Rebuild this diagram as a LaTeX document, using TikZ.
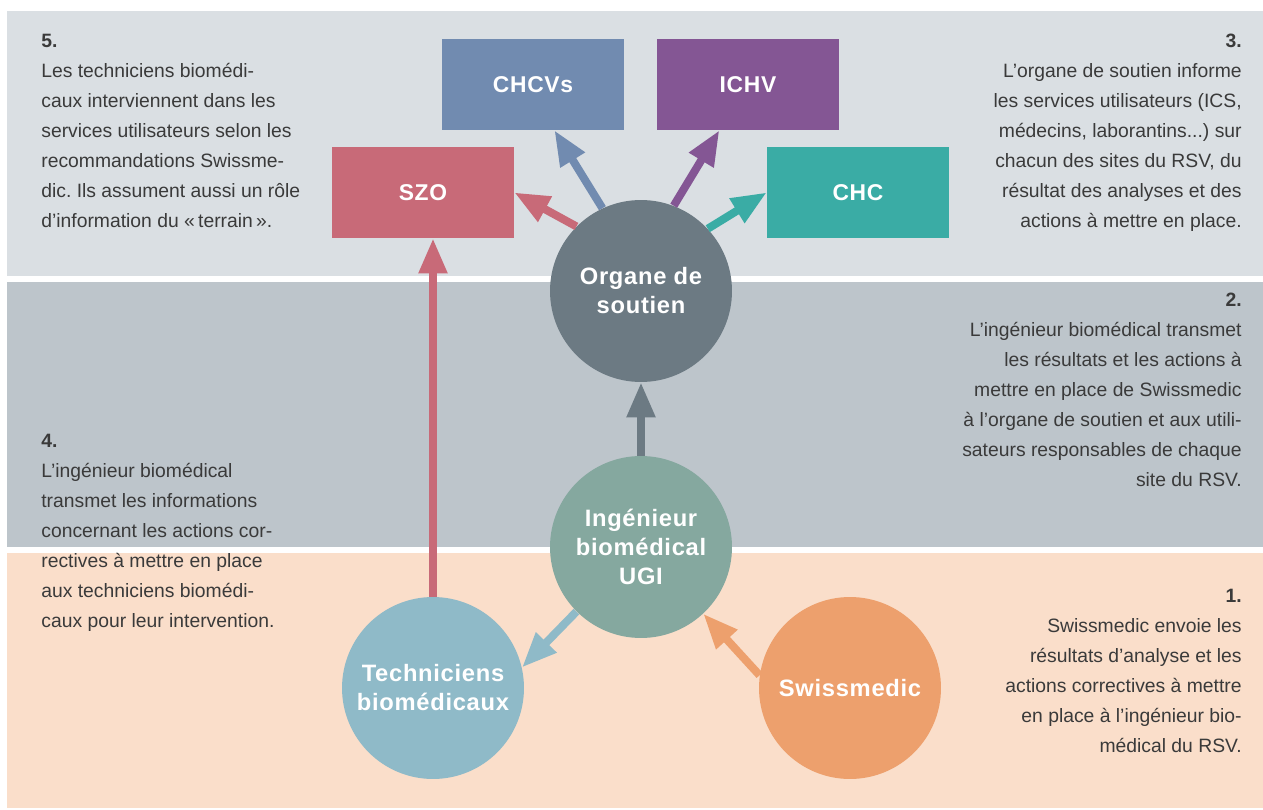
\documentclass[tikz,border=0pt]{standalone}
\usepackage{fontspec}
\setmainfont{Liberation Sans}
\newfontfamily\labelfont[LetterSpace=3]{Liberation Sans}
\usepackage{tikz}
\usetikzlibrary{arrows.meta}
\usepackage{xcolor}
\definecolor{bandtop}{RGB}{218,223,227}
\definecolor{bandmid}{RGB}{189,197,203}
\definecolor{bandlow}{RGB}{250,222,202}
\definecolor{organecol}{RGB}{108,122,131}
\definecolor{ingcol}{RGB}{133,168,159}
\definecolor{techcol}{RGB}{143,186,200}
\definecolor{swisscol}{RGB}{237,160,109}
\definecolor{szocol}{RGB}{200,106,120}
\definecolor{chcvscol}{RGB}{113,139,176}
\definecolor{ichvcol}{RGB}{132,86,148}
\definecolor{chccol}{RGB}{58,172,165}
\definecolor{textgray}{RGB}{58,58,58}
\frenchspacing

\begin{document}
\begin{tikzpicture}[x=0.02cm,y=-0.02cm,
    disc/.style={circle,minimum size=3.64cm,inner sep=0pt,text=white,align=center,font=\labelfont\bfseries\fontsize{13.5}{16.5}\selectfont},
    site/.style={rectangle,minimum width=3.64cm,minimum height=1.82cm,inner sep=0pt,text=white,font=\labelfont\bfseries\fontsize{13}{15}\selectfont},
    arr/.style={line width=0.16cm,-{Triangle[length=0.7cm,width=0.54cm]}},
    info/.style={inner sep=0pt,text=textgray,font=\fontsize{11}{17.07}\selectfont}]
            %
            \useasboundingbox (0,0) rectangle (1263,810);
            \fill [white] (0,0) rectangle (1263,810);
            \fill [bandtop] (7,11) rectangle (1263,276);
            \fill [bandmid] (7,282) rectangle (1263,547);
            \fill [bandlow] (7,553) rectangle (1263,808);
            %
            \node (organe) at (641,291) [disc,fill=organecol] {Organe de\\soutien};
            \node (ingenieur) at (641,547) [disc,fill=ingcol] {Ingénieur\\biomédical\\UGI};
            \node (techniciens) at (433,688) [disc,fill=techcol] {Techniciens\\biomédicaux};
            \node (swissmedic) at (850,688) [disc,fill=swisscol] {Swissmedic};
            %
            \node (szo) at (423,192.5) [site,fill=szocol] {SZO};
            \node (chcvs) at (533,84.5) [site,fill=chcvscol] {CHCVs};
            \node (ichv) at (748,84.5) [site,fill=ichvcol] {ICHV};
            \node (chc) at (858,192.5) [site,fill=chccol] {CHC};
            %
            \draw [arr,color=organecol] (ingenieur) -- (organe);
            \draw [arr,color=szocol] (techniciens) -- (techniciens |- szo.south);
            \draw [arr,color=techcol] (ingenieur.-135) -- (techniciens.13);
            \draw [arr,color=swisscol] (swissmedic.172) -- (ingenieur.-47);
            % \pause
            \draw [arr,color=szocol] (organe.135) -- (szo.east);
            \draw [arr,color=chcvscol] (organe.115) -- (chcvs.-65);
            \draw [arr,color=ichvcol] (organe.69) -- (ichv.-122);
            \draw [arr,color=chccol] (organe.43) -- (chc.west);
            %
            \node (stepone) at (1242,589) [info,anchor=north east,align=right] {\textbf{1.}\\Swissmedic envoie les\\résultats d’analyse et les\\actions correctives à mettre\\en place à l’ingénieur bio-\\médical du RSV.};
            \node (steptwo) at (1242,293) [info,anchor=north east,align=right] {\textbf{2.}\\L’ingénieur biomédical transmet\\les résultats et les actions à\\mettre en place de Swissmedic\\à l’organe de soutien et aux utili-\\sateurs responsables de chaque\\site du RSV.};
            \node (stepthree) at (1242,34) [info,anchor=north east,align=right] {\textbf{3.}\\L’organe de soutien informe\\les services utilisateurs (ICS,\\médecins, laborantins...) sur\\chacun des sites du RSV, du\\résultat des analyses et des\\actions à mettre en place.};
            \node (stepfour) at (41,434) [info,anchor=north west,align=left] {\textbf{4.}\\L’ingénieur biomédical\\transmet les informations\\concernant les actions cor-\\rectives à mettre en place\\aux techniciens biomédi-\\caux pour leur intervention.};
            \node (stepfive) at (41,34) [info,anchor=north west,align=left] {\textbf{5.}\\Les techniciens biomédi-\\caux interviennent dans les\\services utilisateurs selon les\\recommandations Swissme-\\dic. Ils assument aussi un rôle\\d’information du «\,terrain\,».};
            %
\end{tikzpicture}
\end{document}
